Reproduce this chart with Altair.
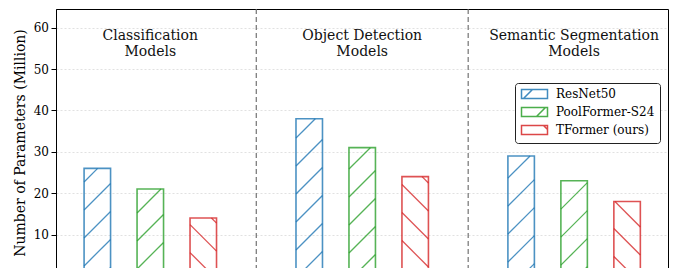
import altair as alt
import pandas as pd
import math

# ---- data ----
groups = ["Classification\nModels", "Object Detection\nModels", "Semantic Segmentation\nModels"]
models = ["ResNet50", "PoolFormer-S24", "TFormer (ours)"]
resnet50 = [26, 38, 29]
poolformer_s24 = [21, 31, 23]
tformer = [14, 24, 18]
y_ticks = [10, 20, 30, 40, 50, 60]

# ---- styling / layout constants ----
colors = ["#1f77b4", "#2ca02c", "#d62728"]
hatches = ["/", "/", "\\"]
offsets = [-0.25, 0.0, 0.25]
BAR_W = 0.125
W, H = 612, 267
XDOM = [-0.445, 2.443]
YDOM = [0, 64.5]
PPX = W / (XDOM[1] - XDOM[0])
PPY = H / (YDOM[1] - YDOM[0])
TITLE_Y = 57.13
SERIF = "DejaVu Serif"

series = [resnet50, poolformer_s24, tformer]

bar_rows = []
for gi in range(len(groups)):
    for mi, m in enumerate(models):
        c = gi + offsets[mi]
        bar_rows.append({"model": m, "col": colors[mi],
                         "x0": c - BAR_W / 2, "x1": c + BAR_W / 2,
                         "lo": 0, "value": series[mi][gi], "hatch": hatches[mi]})
bars_df = pd.DataFrame(bar_rows)

# hatch segments computed from the bars (45 degree lines clipped to each bar)
S = 28.0
C_SLASH = 294.0
C_BACK = -385.4
hatch_rows = []
for r in bar_rows:
    bx0 = (r["x0"] - XDOM[0]) * PPX
    bx1 = (r["x1"] - XDOM[0]) * PPX
    top = r["value"] * PPY
    segs = []
    if r["hatch"] == "/":
        cmin, cmax = 332 - top + bx0, 332 + bx1
        n0 = math.floor((cmin - C_SLASH) / S)
        n1 = math.ceil((cmax - C_SLASH) / S)
        for n in range(n0, n1 + 1):
            k = 332 - (C_SLASH + n * S)
            lo = max(bx0, -k)
            hi = min(bx1, top - k)
            if hi - lo > 0.5:
                segs.append((lo, lo + k, hi, hi + k))
    else:
        cmin, cmax = 220 - top - bx1, 220 - bx0
        n0 = math.floor((cmin - C_BACK) / S)
        n1 = math.ceil((cmax - C_BACK) / S)
        for n in range(n0, n1 + 1):
            k = 220 - (C_BACK + n * S)
            lo = max(bx0, k - top)
            hi = min(bx1, k)
            if hi - lo > 0.5:
                segs.append((lo, k - lo, hi, k - hi))
    for (px0, py0, px1, py1) in segs:
        hatch_rows.append({"model": r["model"], "col": r["col"],
                           "x": XDOM[0] + px0 / PPX, "y": py0 / PPY,
                           "x2": XDOM[0] + px1 / PPX, "y2": py1 / PPY})
hatch_df = pd.DataFrame(hatch_rows)

xs = alt.Scale(domain=XDOM, nice=False, zero=False)
ys = alt.Scale(domain=YDOM, nice=False, zero=False)

yaxis = alt.Axis(values=y_ticks, title="Number of Parameters (Million)",
                 titleFont=SERIF, titleFontSize=14, titleFontWeight="normal",
                 titleColor="black", labelFont=SERIF, labelFontSize=12,
                 labelColor="black", tickColor="black", tickSize=5, tickWidth=1,
                 labelPadding=2.5, titlePadding=6, domainColor="black",
                 domainWidth=1, grid=True, gridColor="#d9d9d9",
                 gridDash=[2, 2], gridWidth=0.8)

rects = alt.Chart(bars_df).mark_rect(
    fillOpacity=0, strokeWidth=1.6, strokeOpacity=0.8, clip=True
).encode(
    x=alt.X("x0:Q", scale=xs, axis=None),
    x2="x1:Q",
    y=alt.Y("lo:Q", scale=ys, axis=yaxis),
    y2="value:Q",
    stroke=alt.Stroke("col:N", scale=None),
)

hatch = alt.Chart(hatch_df).mark_rule(
    strokeWidth=1.3, strokeOpacity=0.8, clip=True
).encode(
    x=alt.X("x:Q", scale=xs, axis=None),
    x2="x2:Q",
    y=alt.Y("y:Q", scale=ys),
    y2="y2:Q",
    stroke=alt.Stroke("col:N", scale=None),
)

seps = alt.Chart(pd.DataFrame({"x": [0.5, 1.5]})).mark_rule(
    strokeDash=[5, 3], color="#666666", strokeWidth=1.1
).encode(x=alt.X("x:Q", scale=xs, axis=None))

titles_df = pd.DataFrame({"gx": list(range(len(groups))), "label": groups,
                          "ty": [TITLE_Y] * len(groups)})
titles = alt.Chart(titles_df).mark_text(
    font=SERIF, fontSize=14, lineBreak="\n", baseline="alphabetic",
    lineHeight=16, color="#111111", align="center"
).encode(
    x=alt.X("gx:Q", scale=xs, axis=None),
    y=alt.Y("ty:Q", scale=ys),
    text="label:N",
)

# legend symbols: patch outline plus one hatch stroke
legend_paths = [
    "M-1,-1H4.778V1H-1Z M-0.556,1L1.444,-1",
    "M-1,-1H4.778V1H-1Z M2.333,1L4.333,-1",
    "M-1,-1H4.778V1H-1Z M3.889,-1L4.778,-0.111",
]
leg = dict(title=None, orient="none", legendX=459, legendY=74,
           symbolSize=81, symbolStrokeWidth=1.5, labelFont=SERIF,
           labelFontSize=12, labelColor="black", labelOffset=24, padding=5,
           strokeColor="#222222", cornerRadius=3, fillColor="white",
           rowPadding=2, labelLimit=300)
# legend-only layer: its points sit below the visible y range and are clipped away
legend_layer = alt.Chart(bars_df).transform_calculate(hidden_y="-40").mark_point(
    filled=False, opacity=0.85, strokeWidth=1.5, clip=True
).encode(
    x=alt.X("x0:Q", scale=xs, axis=None),
    y=alt.Y("hidden_y:Q", scale=ys),
    color=alt.Color("model:N", scale=alt.Scale(domain=models, range=colors),
                    legend=alt.Legend(**leg)),
    shape=alt.Shape("model:N", scale=alt.Scale(domain=models, range=legend_paths),
                    legend=alt.Legend(**leg)),
)

chart = alt.layer(rects, hatch, seps, titles, legend_layer).properties(
    width=W, height=H,
    autosize=alt.AutoSizeParams(type="none"),
    padding={"left": 48, "top": 1, "right": 2, "bottom": 0},
).configure_view(stroke="black", strokeWidth=1)

chart.save("out.html", embed_options={"renderer": "svg", "actions": False})
